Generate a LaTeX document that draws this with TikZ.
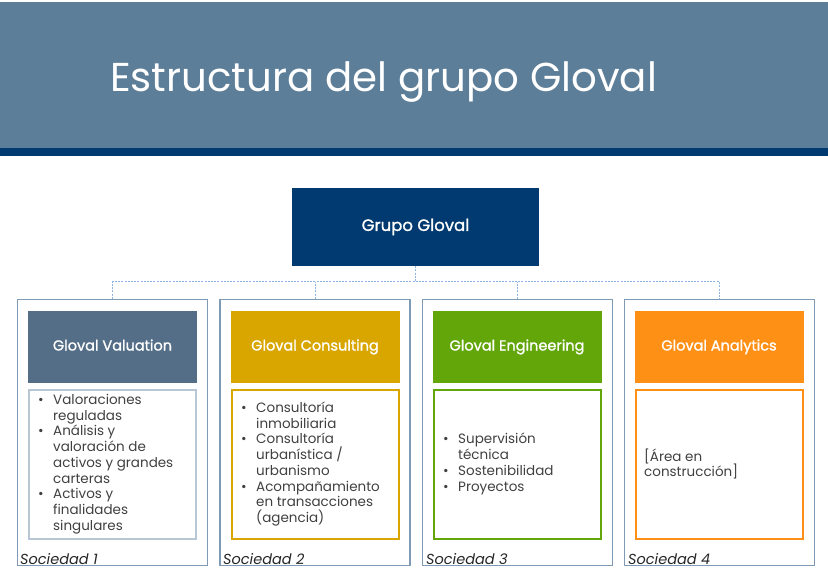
\documentclass[tikz,border=0pt]{standalone}
\usepackage{fontspec}
\setmainfont{Poppins}
\newfontfamily\medfont[FakeBold=1.2]{Poppins}
\usepackage{tikz}
\usetikzlibrary{positioning}
\definecolor{banner}{RGB}{93, 126, 152}
\definecolor{navy}{RGB}{0, 58, 112}
\definecolor{valuation}{RGB}{84, 110, 135}
\definecolor{consulting}{RGB}{217, 166, 0}
\definecolor{engineering}{RGB}{98, 166, 10}
\definecolor{analytics}{RGB}{255, 144, 22}
\definecolor{frame}{RGB}{127, 154, 181}
\definecolor{valframe}{RGB}{183, 199, 214}
\definecolor{linkblue}{RGB}{142, 180, 227}
\definecolor{bodytext}{RGB}{64, 64, 64}
\newcommand{\bul}{\makebox[15pt][l]{\textbullet}}
\newcommand{\ind}{\hspace*{15pt}}

\begin{document}
\begin{tikzpicture}[x=1pt, y=-1pt,
    society/.style={draw=frame, line width=1.4pt, minimum width=190pt, minimum height=266pt, inner sep=0pt},
    header/.style={minimum width=169pt, minimum height=72pt, inner sep=0pt, text height=10.5pt, text depth=3.5pt, text=white, font=\medfont\fontsize{14.5}{16}\selectfont},
    content/.style={line width=2pt, minimum width=167pt, minimum height=149pt, inner sep=0pt},
    items/.style={align=left, text=bodytext, inner sep=0pt, font=\fontsize{13.5}{15.75}\selectfont},
    tag/.style={anchor=base west, inner sep=0pt, text=black!85, font=\fontsize{14.5}{16}\selectfont\itshape},
    link/.style={linkblue, line width=1pt, dash pattern=on 2pt off 1.2pt}]
    % Frame to fix the page size
    \useasboundingbox (0, 0) rectangle (828, 572);
    % Title banner
    \fill[banner]                                                     (0,   2) rectangle (828, 148);
    \fill[navy]                                                       (0, 148) rectangle (828, 156);
    \node[anchor=base west, inner sep=0pt, text=white, font=\fontsize{40.3}{46}\selectfont] (title) at (110, 92) {Estructura del grupo Gloval};
    % Group
    \node[fill=navy, minimum width=247pt, minimum height=78pt, inner sep=0pt, text=white, font=\medfont\fontsize{16.5}{18}\selectfont] (grupo) at (415.5, 227) {Grupo Gloval};
    % Societies
    \node[society] (soc1) at (112.5, 432.5) {};
    \node[society] (soc2) at (315.0, 432.5) {};
    \node[society] (soc3) at (517.5, 432.5) {};
    \node[society] (soc4) at (719.5, 432.5) {};
    % Headers
    \node[header, fill=valuation]   (head1) at (112.5, 347) {Gloval Valuation};
    \node[header, fill=consulting]  (head2) at (315.0, 347) {Gloval Consulting};
    \node[header, fill=engineering] (head3) at (517.0, 347) {Gloval Engineering};
    \node[header, fill=analytics]   (head4) at (719.0, 347) {Gloval Analytics};
    % Content boxes
    \node[content, draw=valframe]    (box1) at (112.5, 464.5) {};
    \node[content, draw=consulting]  (box2) at (315.0, 464.5) {};
    \node[content, draw=engineering] (box3) at (517.0, 464.5) {};
    \node[content, draw=analytics]   (box4) at (719.0, 464.5) {};
    \node[items, anchor=west] (list1) at (38, 464) {\bul Valoraciones\\ \ind reguladas\\ \bul Análisis y\\ \ind valoración de\\ \ind activos y grandes\\ \ind carteras\\ \bul Activos y\\ \ind finalidades\\ \ind singulares};
    \node[items, anchor=west] (list2) at (241, 464) {\bul Consultoría\\ \ind inmobiliaria\\ \bul Consultoría\\ \ind urbanística /\\ \ind urbanismo\\ \bul Acompañamiento\\ \ind en transacciones\\ \ind (agencia)};
    \node[items, anchor=west] (list3) at (443, 464) {\bul Supervisión\\ \ind técnica\\ \bul Sostenibilidad\\ \bul Proyectos};
    \node[items, anchor=west] (list4) at (644, 464) {[Área en\\ construcción]};
    % Society tags
    \node[tag] (tag1) at (20,  564) {Sociedad 1};
    \node[tag] (tag2) at (223, 564) {Sociedad 2};
    \node[tag] (tag3) at (426, 564) {Sociedad 3};
    \node[tag] (tag4) at (628, 564) {Sociedad 4};
    % Connectors
    \coordinate (bus) at (415.5, 282);
    \draw[link] (grupo.south) -- (bus);
    \draw[link] (soc1.north) |- (bus) -| (soc4.north);
    \draw[link] (soc2.north) -- (soc2.north |- bus);
    \draw[link] (soc3.north) -- (soc3.north |- bus);
\end{tikzpicture}
\end{document}
